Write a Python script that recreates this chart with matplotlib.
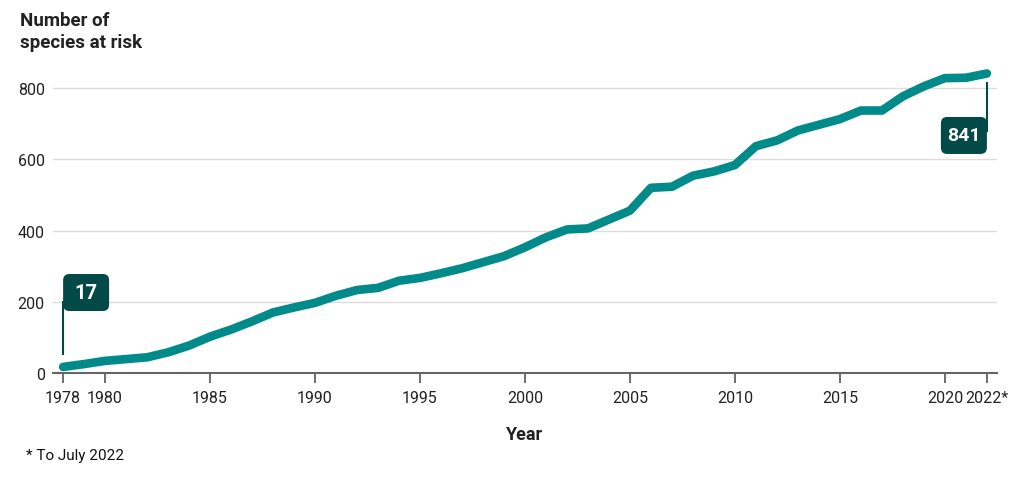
import matplotlib.pyplot as plt
from matplotlib.patches import FancyBboxPatch

plt.rcParams['font.family'] = ['Roboto', 'DejaVu Sans']

years = list(range(1978, 2023))
species = [17, 25, 34, 39, 44, 58, 77, 102, 122, 145, 170, 184, 197, 217, 233,
           239, 259, 267, 280, 294, 311, 328, 353, 381, 403, 406, 431, 456, 520,
           523, 554, 566, 584, 637, 653, 681, 697, 713, 737, 737, 777, 805, 828,
           829, 841]
tick_years = [1978, 1980, 1985, 1990, 1995, 2000, 2005, 2010, 2015, 2020, 2022]
tick_labels = ['1978', '1980', '1985', '1990', '1995', '2000', '2005', '2010',
               '2015', '2020', '2022*']

teal = '#008a8a'
dark = '#034948'

fig = plt.figure(figsize=(10.24, 4.81), dpi=100)
ax = fig.add_axes([0.0518, 0.2225, 0.9218, 0.6515])

ax.plot(years, species, color=teal, lw=6.2, solid_capstyle='round',
        solid_joinstyle='round', zorder=3)

ax.set_xlim(1977.52, 2022.48)
ax.set_ylim(0, 880)
ax.set_yticks([0, 200, 400, 600, 800])
ax.set_xticks(tick_years)
ax.set_xticklabels(tick_labels)
ax.grid(axis='y', color='#dcdcdc', lw=1)
ax.set_axisbelow(True)
for s in ['top', 'right', 'left']:
    ax.spines[s].set_visible(False)
ax.spines['bottom'].set_color('#666666')
ax.spines['bottom'].set_linewidth(1.5)
ax.tick_params(axis='y', length=0, pad=6, labelsize=11.5, labelcolor='#222222')
ax.tick_params(axis='x', length=7, width=1.2, color='#555555', pad=5,
               labelsize=11.5, labelcolor='#222222')

ax.set_xlabel('Year', fontsize=13, fontweight='bold', color='#222222', labelpad=15)

# px -> data conversion for callout boxes
xpx = 21.0
ypx = 0.356
box_w = 46 / xpx
box_h = 37 / ypx
asp = (1 / ypx) / (1 / xpx)

# first value callout
x0, y0 = years[0], species[0]
ax.plot([x0, x0], [53, 200], color=dark, lw=1.5, zorder=4)
ax.add_patch(FancyBboxPatch((x0, 174), box_w, box_h,
                            boxstyle='round,pad=0,rounding_size=0.3',
                            mutation_aspect=asp, fc=dark, ec='none', zorder=5))
ax.text(x0 + box_w / 2, 174 + box_h / 2, str(y0), color='white', fontsize=14.5,
        fontweight='bold', ha='center', va='center', zorder=6)

# last value callout
x1, y1 = years[-1], species[-1]
ax.plot([x1, x1], [815, 680], color=dark, lw=1.5, zorder=4)
ax.add_patch(FancyBboxPatch((x1 - box_w, 615), box_w, box_h,
                            boxstyle='round,pad=0,rounding_size=0.3',
                            mutation_aspect=asp, fc=dark, ec='none', zorder=5))
ax.text(x1 - box_w / 2, 615 + box_h / 2, str(y1), color='white', fontsize=14,
        fontweight='bold', ha='center', va='center', zorder=6)

fig.text(0.0195, 0.975, 'Number of\nspecies at risk', fontsize=13.5,
         fontweight='bold', color='#222222', va='top', ha='left', linespacing=1.25)
fig.text(0.025, 0.052, '* To July 2022', fontsize=11, color='#111111',
         ha='left', va='center')

fig.savefig('out.png', dpi=100)
